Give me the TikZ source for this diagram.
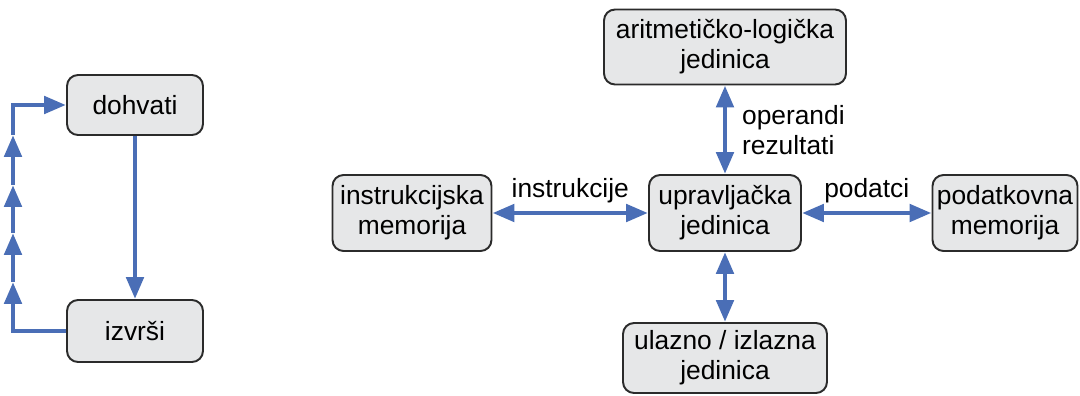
\documentclass[tikz,border=0pt]{standalone}
\usepackage{fontspec}
\setmainfont{Liberation Sans}
\usetikzlibrary{arrows.meta,positioning}
\definecolor{linkblue}{HTML}{4A6EB6}
\definecolor{boxgray}{HTML}{E6E7E8}
\definecolor{boxline}{HTML}{2B2B2B}

\begin{document}
\begin{tikzpicture}[
    x=0.02cm, y=-0.02cm,
    blk/.style={draw=boxline, line width=1.1pt, fill=boxgray, rounded corners=0.22cm,
                align=center, inner sep=0pt, font=\fontsize{15}{17}\selectfont},
    lbl/.style={font=\fontsize{15}{17}\selectfont, align=left},
    link/.style={draw=linkblue, line width=2.8pt,
                 -{Triangle[length=0.44cm,width=0.34cm]}},
    dlink/.style={link, {Triangle[length=0.44cm,width=0.34cm]}-{Triangle[length=0.44cm,width=0.34cm]}},
  ]
  \useasboundingbox (0,0) rectangle (1080,396);

  %% Fetch / execute cycle
  \node[blk, minimum width=2.72cm, minimum height=1.2cm] (dohvati) at (135,105) {dohvati};
  \node[blk, minimum width=2.72cm, minimum height=1.24cm] (izvrsi) at (135,331) {izvrši};
  \draw[link] (dohvati) -- (izvrsi);

  %% Loop back
  \coordinate (loopa) at (13,282);
  \coordinate (loopb) at (13,233);
  \coordinate (loopc) at (13,185);
  \coordinate (loopd) at (13,135);
  \draw[link] (izvrsi.west) -| (loopa);
  \draw[link] (loopa) -- (loopb);
  \draw[link] (loopb) -- (loopc);
  \draw[link] (loopc) -- (loopd);
  \draw[link] (loopd) |- (dohvati.west);

  %% Processor units
  \node[blk, minimum width=4.84cm, minimum height=1.5cm] (alu) at (725,47) {aritmetičko-logička\\jedinica};
  \node[blk, minimum width=3.18cm, minimum height=1.52cm] (imem) at (412,213) {instrukcijska\\memorija};
  \node[blk, minimum width=3.04cm, minimum height=1.52cm] (cu) at (725,213) {upravljačka\\jedinica};
  \node[blk, minimum width=2.9cm, minimum height=1.52cm] (dmem) at (1005,213) {podatkovna\\memorija};
  \node[blk, minimum width=4.08cm, minimum height=1.4cm] (io) at (725,358) {ulazno / izlazna\\jedinica};

  %% Connections
  \draw[dlink] (imem) -- node[lbl, above=1pt] {instrukcije} (cu);
  \draw[dlink] (cu) -- node[lbl, above=1pt] {podatci} (dmem);
  \draw[dlink] (alu) -- node[lbl, right=5pt] {operandi\\rezultati} (cu);
  \draw[dlink] (cu) -- (io);
\end{tikzpicture}
\end{document}
